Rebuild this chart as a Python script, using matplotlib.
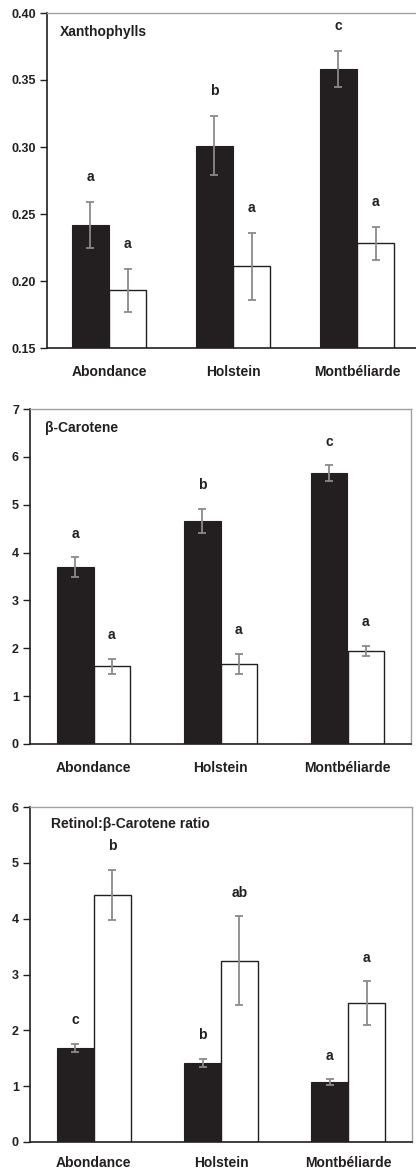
import matplotlib
matplotlib.use("Agg")
import matplotlib.pyplot as plt
import numpy as np

plt.rcParams['font.family'] = ['Liberation Sans', 'DejaVu Sans']

breeds = ["Abondance", "Holstein", "Montbéliarde"]

# Panel 1: Xanthophylls
xan_black = [0.242, 0.301, 0.358]
xan_black_err = [0.017, 0.022, 0.0135]
xan_white = [0.193, 0.211, 0.228]
xan_white_err = [0.016, 0.025, 0.012]
xan_black_letters = ["a", "b", "c"]
xan_white_letters = ["a", "a", "a"]

# Panel 2: beta-Carotene
car_black = [3.70, 4.66, 5.66]
car_black_err = [0.20, 0.25, 0.16]
car_white = [1.62, 1.68, 1.94]
car_white_err = [0.155, 0.21, 0.11]
car_black_letters = ["a", "b", "c"]
car_white_letters = ["a", "a", "a"]

# Panel 3: Retinol:beta-Carotene ratio
rat_black = [1.68, 1.415, 1.07]
rat_black_err = [0.075, 0.08, 0.05]
rat_white = [4.42, 3.25, 2.49]
rat_white_err = [0.45, 0.79, 0.39]
rat_black_letters = ["c", "b", "a"]
rat_white_letters = ["b", "ab", "a"]

DARK = "#231f20"
GREY = "#8a8a8a"
SPINE_GREY = "#a0a0a0"

W, H = 416, 1171
fig = plt.figure(figsize=(W / 100, H / 100), dpi=100)


def px_axes(left, top, right, bottom):
    return fig.add_axes([left / W, 1 - bottom / H, (right - left) / W, (bottom - top) / H])


def panel(ax, black, berr, white, werr, bl, wl, ylim, yticks, fmt, title, title_xy, bw,
          letter_off, xpad):
    x = np.arange(len(breeds))
    ax.bar(x - bw / 2, black, bw, color=DARK, edgecolor=DARK, linewidth=0.8, zorder=2)
    ax.bar(x + bw / 2, white, bw, color="white", edgecolor=DARK, linewidth=1.0, zorder=2)
    ekw = dict(fmt="none", ecolor=GREY, elinewidth=1.3, capsize=3, capthick=1.3, zorder=3)
    ax.errorbar(x - bw / 2, black, yerr=berr, **ekw)
    ax.errorbar(x + bw / 2, white, yerr=werr, **ekw)
    for i in range(len(breeds)):
        ax.annotate(bl[i], (x[i] - bw / 2, black[i] + berr[i]), xytext=(0, letter_off),
                    textcoords="offset points", ha="center", va="center",
                    fontsize=10, fontweight="bold", color=DARK)
        ax.annotate(wl[i], (x[i] + bw / 2, white[i] + werr[i]), xytext=(0, letter_off),
                    textcoords="offset points", ha="center", va="center",
                    fontsize=10, fontweight="bold", color=DARK)
    ax.set_xlim(-0.5, 2.5)
    ax.set_ylim(*ylim)
    ax.set_yticks(yticks)
    ax.set_yticklabels([fmt.format(v) for v in yticks], fontsize=9, fontweight="bold", color=DARK)
    ax.set_xticks(x)
    ax.set_xticklabels(breeds, fontsize=10, fontweight="bold", color=DARK)
    ax.tick_params(axis="x", length=0, pad=xpad)
    ax.tick_params(axis="y", direction="out", length=5, width=1, color=DARK, pad=3)
    for s in ("left", "bottom"):
        ax.spines[s].set_color(DARK)
        ax.spines[s].set_linewidth(1.2)
    for s in ("top", "right"):
        ax.spines[s].set_color(SPINE_GREY)
        ax.spines[s].set_linewidth(1.0)
    ax.text(title_xy[0], title_xy[1], title, transform=ax.transAxes, ha="left", va="center",
            fontsize=10, fontweight="bold", color=DARK)


ax1 = px_axes(47, 13, 419, 348)
panel(ax1, xan_black, xan_black_err, xan_white, xan_white_err, xan_black_letters, xan_white_letters,
      (0.15, 0.40), [0.15, 0.20, 0.25, 0.30, 0.35, 0.40], "{:.2f}", "Xanthophylls", (0.035, 0.944),
      0.30, 18, 12)

ax2 = px_axes(30, 409, 411, 744)
panel(ax2, car_black, car_black_err, car_white, car_white_err, car_black_letters, car_white_letters,
      (0, 7), [0, 1, 2, 3, 4, 5, 6, 7], "{:d}", "β-Carotene", (0.039, 0.942), 0.29, 17, 12)

ax3 = px_axes(30, 807, 412, 1142)
panel(ax3, rat_black, rat_black_err, rat_white, rat_white_err, rat_black_letters, rat_white_letters,
      (0, 6), [0, 1, 2, 3, 4, 5, 6], "{:d}", "Retinol:β-Carotene ratio", (0.054, 0.948), 0.29, 17, 10)

fig.savefig("out.png", dpi=100)
